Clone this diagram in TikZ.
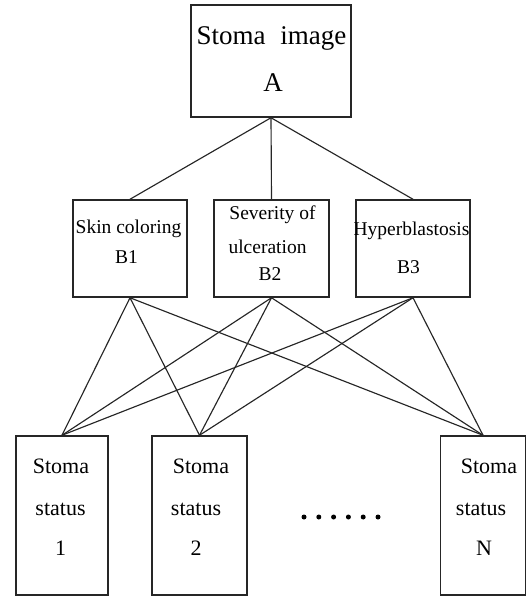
\documentclass[tikz,border=0pt]{standalone}
\usepackage{fontspec}
\setmainfont{Liberation Serif}
\begin{document}
\begin{tikzpicture}[x=1pt,y=-1pt,
  box/.style={draw=black!85, line width=1.5pt, inner sep=0pt, fill=none},
  link/.style={draw=black!85, line width=1.15pt},
  lbl/.style={inner sep=0pt, anchor=base, text=black},
  fa/.style={font=\fontsize{27}{27}\selectfont},
  fb/.style={font=\fontsize{19.5}{19.5}\selectfont},
  fc/.style={font=\fontsize{22}{22}\selectfont}]
\useasboundingbox (0,0) rectangle (527,596);
% boxes
\node[box, minimum width=160pt, minimum height=112pt] (A) at (271,61) {};
\node[box, minimum width=114pt, minimum height=97pt] (B1) at (130,248.5) {};
\node[box, minimum width=115pt, minimum height=97pt] (B2) at (271.5,248.5) {};
\node[box, minimum width=114pt, minimum height=97pt] (B3) at (413,248.5) {};
\node[box, minimum width=92pt, minimum height=159pt] (C1) at (62,515.5) {};
\node[box, minimum width=95pt, minimum height=159pt] (C2) at (199.5,515.5) {};
\node[box, minimum width=85pt, minimum height=159pt] (CN) at (483,515.5) {};
% texts
\node[lbl, fa] (tA1) at (271.5,45) {Stoma\hspace{0.55em}image};
\node[lbl, fa] (tA2) at (273,92) {A};
\node[lbl, fb] (tB11) at (128.5,233) {Skin coloring};
\node[lbl, fb] (tB12) at (126.5,263) {B1};
\node[lbl, fb] (tB21) at (272.5,219) {Severity of};
\node[lbl, fb] (tB22) at (267.5,253) {ulceration};
\node[lbl, fb] (tB23) at (270,280) {B2};
\node[lbl, fb] (tB31) at (411.5,235) {Hyperblastosis};
\node[lbl, fb] (tB32) at (408.5,273) {B3};
\node[lbl, fc] (tC11) at (61,473) {Stoma};
\node[lbl, fc] (tC12) at (60.5,515) {status};
\node[lbl, fc] (tC13) at (60.5,555) {1};
\node[lbl, fc] (tC21) at (201,473) {Stoma};
\node[lbl, fc] (tC22) at (196,515) {status};
\node[lbl, fc] (tC23) at (196,555) {2};
\node[lbl, fc] (tCN1) at (489,473) {Stoma};
\node[lbl, fc] (tCN2) at (481,515) {status};
\node[lbl, fc] (tCN3) at (484,555) {N};
% dots
\foreach \i in {0,...,5} \fill[black] (304+\i*14.8,517) circle (2.5);
% connectors
\foreach \b in {B1,B2,B3} \draw[link] (A.south) -- (\b.north);
\foreach \b in {B1,B2,B3}
  \foreach \c in {C1,C2,CN}
    \draw[link] (\b.south) -- (\c.north);
\end{tikzpicture}
\end{document}
